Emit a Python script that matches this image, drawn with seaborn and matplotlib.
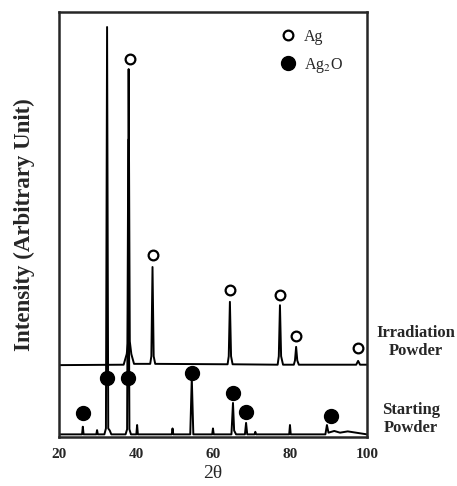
import matplotlib
matplotlib.use("Agg")
import matplotlib.pyplot as plt
import seaborn as sns
import pandas as pd

# Irradiation powder pattern (2theta, intensity in arbitrary units)
irr_2theta = [20, 36.8, 37.6, 37.9, 38.1, 38.4, 38.8, 39.5, 43.7, 44.0, 44.3, 44.6, 45.0,
              63.8, 64.1, 64.4, 64.7, 65.1, 76.8, 77.1, 77.4, 77.7, 78.2,
              81.0, 81.3, 81.6, 81.9, 82.3, 97.2, 97.7, 98.2, 100]
irr_intensity = [16.9, 17.0, 19.5, 22.0, 86.6, 22.5, 19.5, 17.2, 17.2, 19.0, 40.0, 19.0, 17.2,
                 17.1, 19.0, 31.8, 19.0, 17.1, 17.0, 19.0, 31.0, 19.0, 17.0,
                 17.0, 18.0, 21.2, 18.0, 17.0, 17.0, 17.9, 17.0, 17.0]

# Starting powder pattern
start_2theta = [20, 26.0, 26.2, 26.4, 29.7, 29.9, 30.1, 31.8, 32.2, 32.5, 32.8, 33.2, 33.6,
                37.3, 37.7, 38.0, 38.3, 38.7, 40.1, 40.3, 40.5, 49.3, 49.5, 49.7,
                54.1, 54.5, 54.9, 59.8, 60.0, 60.2, 64.8, 65.2, 65.5, 66.0, 68.3, 68.6,
                68.9, 70.8, 71.0, 71.2, 79.8, 80.0, 80.2, 89.2, 89.6, 90.0, 91.5, 93.0,
                95.0, 100]
start_intensity = [0.6, 0.6, 2.4, 0.6, 0.6, 1.6, 0.6, 0.6, 2.0, 96.5, 2.0, 1.5, 0.6,
                   0.6, 1.8, 70.0, 1.8, 0.6, 0.6, 2.8, 0.6, 0.6, 2.0, 0.6,
                   0.6, 13.9, 0.6, 0.6, 2.0, 0.6, 0.6, 8.0, 1.5, 0.6, 0.6, 3.3,
                   0.6, 0.6, 1.2, 0.6, 0.6, 2.8, 0.6, 0.6, 2.8, 1.0, 1.4, 1.0,
                   1.3, 0.6]

# Phase markers
ag_2theta = [38.4, 44.4, 64.4, 77.4, 81.6, 97.7]
ag_height = [88.9, 42.8, 34.6, 33.4, 23.8, 20.9]
ag2o_2theta = [26.2, 32.5, 38.0, 54.5, 65.2, 68.6, 90.6]
ag2o_height = [5.6, 13.9, 13.9, 15.1, 10.4, 5.9, 4.9]

x_ticks = [20, 40, 60, 80, 100]

sns.set_style("ticks")
plt.rcParams["font.family"] = ["Liberation Serif", "DejaVu Serif"]
plt.rcParams["mathtext.fontset"] = "stix"

irr_df = pd.DataFrame({"two_theta": irr_2theta, "intensity": irr_intensity})
start_df = pd.DataFrame({"two_theta": start_2theta, "intensity": start_intensity})

fig = plt.figure(figsize=(4.57, 4.86), dpi=100)
ax = fig.add_axes([0.129, 0.101, 0.674, 0.874])

sns.lineplot(data=start_df, x="two_theta", y="intensity", sort=False, estimator=None,
             color="black", linewidth=1.4, ax=ax)
sns.lineplot(data=irr_df, x="two_theta", y="intensity", sort=False, estimator=None,
             color="black", linewidth=1.4, ax=ax)

ax.plot(ag_2theta, ag_height, linestyle="none", marker="o", markersize=7,
        markerfacecolor="white", markeredgecolor="black", markeredgewidth=1.6, label="Ag")
ax.plot(ag2o_2theta, ag2o_height, linestyle="none", marker="o", markersize=10,
        markerfacecolor="black", markeredgecolor="black", label="Ag$_2$O")

ax.legend(loc="upper left", bbox_to_anchor=(0.67, 0.995), frameon=False,
          handletextpad=0.5, labelspacing=0.7, fontsize=11.5, handlelength=1.0)

ax.set_xlim(20, 100)
ax.set_ylim(0, 100)
ax.set_xticks(x_ticks)
ax.set_xticklabels([str(t) for t in x_ticks], fontweight="bold", fontsize=11)
ax.set_yticks([])
ax.tick_params(axis="x", length=0, pad=8)
for sp in ax.spines.values():
    sp.set_linewidth(1.8)

ax.set_xlabel("2θ", fontsize=14, labelpad=3)
ax.set_ylabel("Intensity (Arbitrary Unit)", fontsize=16.5, fontweight="bold", labelpad=17)

ax.text(1.159, 0.224, "Irradiation\nPowder", transform=ax.transAxes, ha="center", va="center",
        fontsize=12, fontweight="bold", linespacing=1.2, clip_on=False)
ax.text(1.143, 0.042, "Starting\nPowder", transform=ax.transAxes, ha="center", va="center",
        fontsize=12, fontweight="bold", linespacing=1.2, clip_on=False)

fig.savefig("out.png", dpi=100)
